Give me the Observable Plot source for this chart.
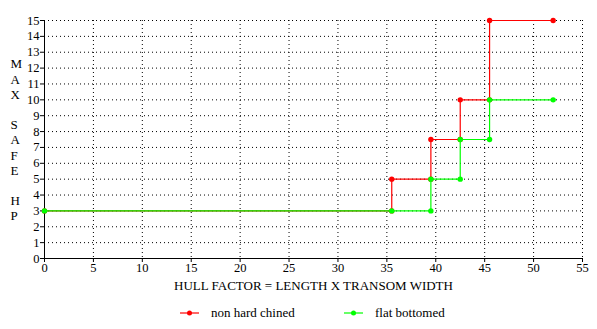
<!DOCTYPE html>
<html>
<head>
<meta charset="utf-8">
<script src="https://cdn.jsdelivr.net/npm/d3@7"></script>
<script src="https://cdn.jsdelivr.net/npm/@observablehq/plot@0.6"></script>
<style>
  body { margin: 0; background: #fff; font-family: "Liberation Serif", serif; }
  #legend { position: relative; width: 597px; height: 29px; font-size: 13px; }
  .item { position: absolute; top: 5px; display: flex; align-items: center; }
  .item svg { margin-right: 12px; }
</style>
</head>
<body>
<div id="chart"></div>
<div id="legend"></div>
<script>
const seriesNames = ["non hard chined", "flat bottomed"];
const seriesColors = ["#ff0000", "#00ff00"];
const redX = [0, 35.5, 35.5, 39.5, 39.5, 42.5, 42.5, 45.5, 45.5, 52];
const redY = [3, 3, 5, 5, 7.5, 7.5, 10, 10, 15, 15];
const greenX = [0, 35.5, 39.5, 39.5, 42.5, 42.5, 45.5, 45.5, 52];
const greenY = [3, 3, 3, 5, 5, 7.5, 7.5, 10, 10];
const xTicks = [0, 5, 10, 15, 20, 25, 30, 35, 40, 45, 50, 55];
const yTicks = [0, 1, 2, 3, 4, 5, 6, 7, 8, 9, 10, 11, 12, 13, 14, 15];
const xTitle = "HULL FACTOR = LENGTH X TRANSOM WIDTH";
const yTitle = "M\nA\nX\n\nS\nA\nF\nE\n\nH\nP";

const red = redX.map((x, i) => ({x, y: redY[i]}));
const green = greenX.map((x, i) => ({x, y: greenY[i]}));

const chart = Plot.plot({
  width: 597,
  height: 300,
  marginLeft: 44,
  marginRight: 15,
  marginTop: 20,
  marginBottom: 42,
  style: {fontFamily: "Liberation Serif, serif", fontSize: "12px", color: "black", background: "white"},
  x: {domain: [0, 55]},
  y: {domain: [0, 15]},
  marks: [
    Plot.gridX(xTicks.slice(1), {stroke: "black", strokeOpacity: 1, strokeDasharray: "1,3"}),
    Plot.gridY(yTicks.slice(1), {stroke: "black", strokeOpacity: 1, strokeDasharray: "1,3"}),
    Plot.axisX(xTicks, {tickSize: 4, tickPadding: 1, fontSize: 12.5, label: null}),
    Plot.axisY(yTicks, {tickSize: 4, tickPadding: 1, fontSize: 12.5, label: null}),
    Plot.ruleX([0], {stroke: "black"}),
    Plot.ruleY([0], {stroke: "black"}),
    Plot.text([xTitle], {frameAnchor: "bottom", dy: 31, fontSize: 13, text: d => d}),
    Plot.text([yTitle], {frameAnchor: "left", dx: -34, fontSize: 13, lineHeight: 1.17, text: d => d}),
    Plot.line(red, {x: "x", y: "y", stroke: seriesColors[0], strokeWidth: 1.2}),
    Plot.dot(red, {x: "x", y: "y", fill: seriesColors[0], r: 2.7}),
    Plot.line(green, {x: "x", y: "y", stroke: seriesColors[1], strokeWidth: 1.2}),
    Plot.dot(green, {x: "x", y: "y", fill: seriesColors[1], r: 2.7})
  ]
});
document.getElementById("chart").appendChild(chart);

const legend = document.getElementById("legend");
const lefts = [180, 344];
seriesNames.forEach((name, i) => {
  const div = document.createElement("div");
  div.className = "item";
  div.style.left = lefts[i] + "px";
  div.innerHTML = `<svg width="19" height="8"><line x1="0" y1="4" x2="19" y2="4" stroke="${seriesColors[i]}" stroke-width="1.2"/><circle cx="9.5" cy="4" r="2.5" fill="${seriesColors[i]}"/></svg><span>${name}</span>`;
  legend.appendChild(div);
});
</script>
</body>
</html>
